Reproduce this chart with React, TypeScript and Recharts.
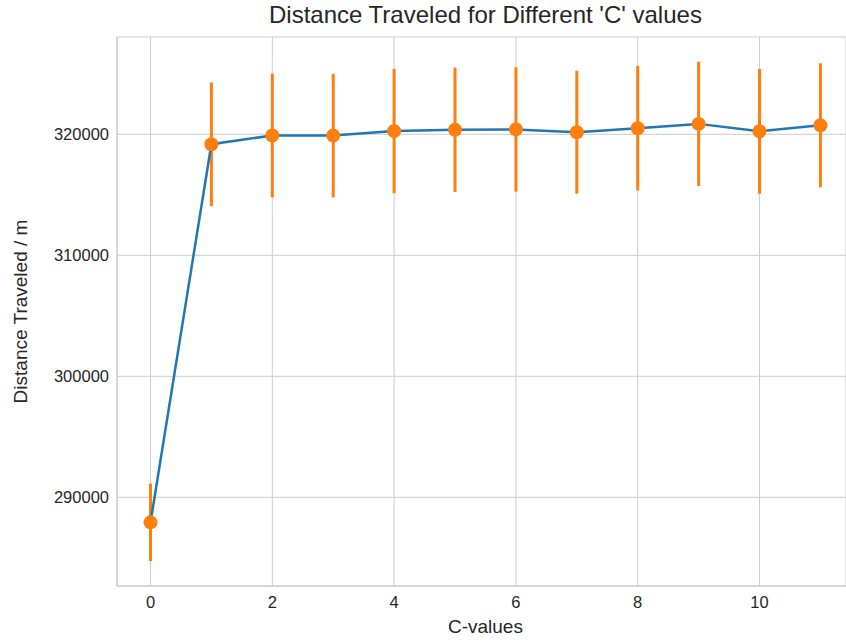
import React from "react";
import { ComposedChart, Line, XAxis, YAxis, CartesianGrid, ErrorBar } from "recharts";

const C_VALUES = [0, 1, 2, 3, 4, 5, 6, 7, 8, 9, 10, 11];
const MEAN_DISTANCE = [287930, 319180, 319900, 319890, 320265, 320375, 320405, 320170, 320505, 320860, 320245, 320740];
const STD_DISTANCE = [3200, 5110, 5110, 5110, 5140, 5140, 5140, 5080, 5150, 5140, 5150, 5125];
const X_TICKS = [0, 2, 4, 6, 8, 10];
const Y_TICKS = [290000, 300000, 310000, 320000];

const TITLE = "Distance Traveled for Different 'C' values";
const X_LABEL = "C-values";
const Y_LABEL = "Distance Traveled / m";

const X_DOMAIN: [number, number] = [-0.55, 11.42];
const Y_DOMAIN: [number, number] = [282670, 328040];

const W = 846;
const H = 642;
const PLOT_LEFT = 117;
const PLOT_TOP = 37;
const PLOT_BOTTOM = 586;
const FONT = "'Liberation Sans', Arial, Helvetica, sans-serif";
const TEXT = "#262626";
const SPINE = "#cccccc";

const data = C_VALUES.map((c, i) => ({ c, mean: MEAN_DISTANCE[i], err: STD_DISTANCE[i] }));

// axes centre (matplotlib centres labels on the full axes, data centre 5.5)
const centerX = PLOT_LEFT + ((W - PLOT_LEFT) * (5.5 - X_DOMAIN[0])) / (X_DOMAIN[1] - X_DOMAIN[0]);
const centerY = (PLOT_TOP + PLOT_BOTTOM) / 2;

const XLabel = () => (
  <text x={centerX} y={633} textAnchor="middle" fill={TEXT} fontSize={19} fontFamily={FONT}>
    {X_LABEL}
  </text>
);

const YLabelAndTitle = () => (
  <g>
    <text x={centerX} y={23} textAnchor="middle" fill={TEXT} fontSize={24} fontFamily={FONT}>
      {TITLE}
    </text>
    <text
      x={27}
      y={centerY}
      transform={`rotate(-90, 27, ${centerY})`}
      textAnchor="middle"
      fill={TEXT}
      fontSize={19}
      fontFamily={FONT}
    >
      {Y_LABEL}
    </text>
  </g>
);

export default function App() {
  return (
    <div style={{ position: "absolute", left: 0, top: 0, width: W, height: H, overflow: "hidden", background: "#fff" }}>
      <ComposedChart width={W} height={H} data={data} margin={{ top: PLOT_TOP, right: 0, bottom: 0, left: 0 }}>
        <CartesianGrid stroke={SPINE} strokeWidth={1} />
        <XAxis
          type="number"
          dataKey="c"
          domain={X_DOMAIN}
          ticks={X_TICKS}
          allowDataOverflow
          height={H - PLOT_BOTTOM}
          tickSize={0}
          tickMargin={10}
          tickLine={false}
          axisLine={{ stroke: SPINE, strokeWidth: 1.25 }}
          tick={{ fill: TEXT, fontSize: 16.5, fontFamily: FONT }}
          label={{ content: <XLabel /> }}
        />
        <XAxis
          xAxisId="top"
          orientation="top"
          type="number"
          domain={X_DOMAIN}
          allowDataOverflow
          height={0}
          tick={false}
          tickLine={false}
          axisLine={{ stroke: SPINE, strokeWidth: 1.25 }}
        />
        <YAxis
          type="number"
          domain={Y_DOMAIN}
          ticks={Y_TICKS}
          allowDataOverflow
          width={PLOT_LEFT}
          tickSize={0}
          tickMargin={8}
          tickLine={false}
          axisLine={{ stroke: SPINE, strokeWidth: 1.25 }}
          tick={{ fill: TEXT, fontSize: 16.5, fontFamily: FONT }}
          label={{ content: <YLabelAndTitle /> }}
        />
        <Line dataKey="mean" stroke="none" dot={false} activeDot={false} isAnimationActive={false}>
          <ErrorBar dataKey="err" width={0} strokeWidth={3} stroke="#ff7f0e" direction="y" isAnimationActive={false} />
        </Line>
        <Line dataKey="mean" stroke="#1f77b4" strokeWidth={2.5} dot={false} activeDot={false} isAnimationActive={false} />
        <Line
          dataKey="mean"
          stroke="none"
          dot={{ r: 7, fill: "#ff7f0e", stroke: "none", strokeWidth: 0 }}
          activeDot={false}
          isAnimationActive={false}
        />
      </ComposedChart>
    </div>
  );
}
